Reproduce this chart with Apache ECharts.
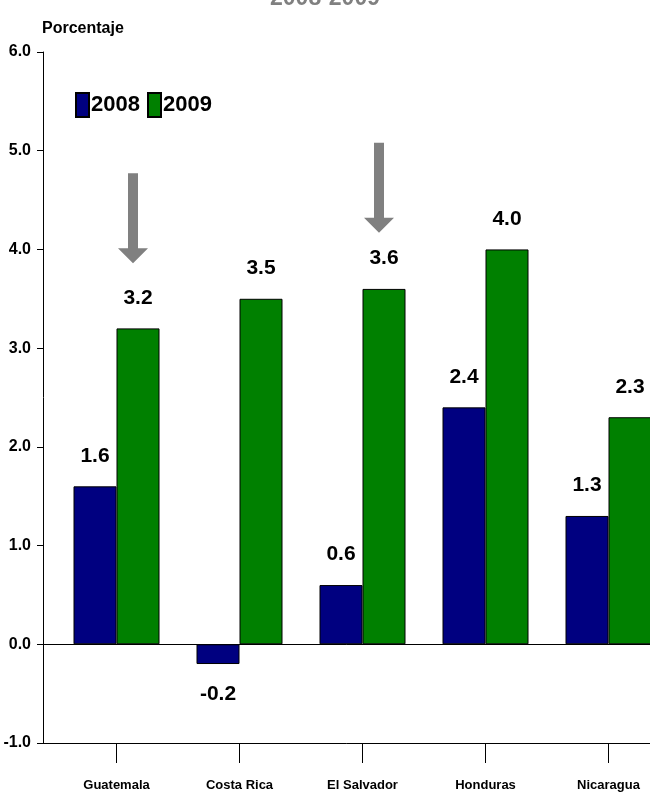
<!DOCTYPE html>
<html>
<head>
<meta charset="utf-8">
<script src="https://cdn.jsdelivr.net/npm/echarts@6/dist/echarts.min.js"></script>
<style>html,body{margin:0;padding:0;background:#fff}#c{width:650px;height:800px}</style>
</head>
<body>
<div id="c"></div>
<script>
var titleText = '2008-2009';
var yAxisName = 'Porcentaje';
var categories = ['Guatemala', 'Costa Rica', 'El Salvador', 'Honduras', 'Nicaragua'];
var values2008 = [1.6, -0.2, 0.6, 2.4, 1.3];
var values2009 = [3.2, 3.5, 3.6, 4.0, 2.3];
var seriesNames = ['2008', '2009'];
var yMin = -1, yMax = 6, yStep = 1;
// annotation arrows: [category, value at arrow tip]
var arrowTips = [['Guatemala', 3.86], ['El Salvador', 4.17]];

var FONT = "'Liberation Sans Narrow','Liberation Sans',Arial,sans-serif";
var BW = 'bold';
var chart = echarts.init(document.getElementById('c'));
var arrowPath = 'path://M5,0 L10,0 L10,75 L15,75 L7.5,90 L0,75 L5,75 Z';

chart.setOption({
  animation: false,
  backgroundColor: '#ffffff',
  title: {
    text: titleText, left: 'center', top: -18,
    textStyle: { color: '#808080', fontSize: 23, fontWeight: BW, fontFamily: FONT }
  },
  legend: [
    { left: 70, top: 87, itemWidth: 13, itemHeight: 24, icon: 'rect', data: [seriesNames[0]],
      itemStyle: { borderColor: '#000', borderWidth: 2 },
      textStyle: { fontSize: 22, fontWeight: BW, fontFamily: FONT, color: '#000', padding: [0, 0, 0, -3] } },
    { left: 142, top: 87, itemWidth: 13, itemHeight: 24, icon: 'rect', data: [seriesNames[1]],
      itemStyle: { borderColor: '#000', borderWidth: 2 },
      textStyle: { fontSize: 22, fontWeight: BW, fontFamily: FONT, color: '#000', padding: [0, 0, 0, -3] } }
  ],
  grid: [
    { left: 43, width: 627, top: 52, bottom: 57, outerBoundsMode: 'none' },
    { left: 55, width: 615, top: 52, bottom: 57, outerBoundsMode: 'none' }
  ],
  xAxis: [
    { gridIndex: 0, type: 'value', min: 0, max: 1, position: 'bottom',
      axisLine: { show: true, onZero: false, lineStyle: { color: '#000', width: 1 } },
      axisTick: { show: false }, axisLabel: { show: false }, splitLine: { show: false } },
    { gridIndex: 0, type: 'value', min: 0, max: 1, position: 'top',
      axisLine: { show: true, onZero: true, lineStyle: { color: '#000', width: 1 } },
      axisTick: { show: false }, axisLabel: { show: false }, splitLine: { show: false } },
    { gridIndex: 1, type: 'category', data: categories, position: 'bottom',
      axisLine: { show: false, onZero: false },
      axisTick: { show: true, alignWithLabel: true, length: 20, lineStyle: { color: '#000' } },
      axisLabel: { interval: 0, margin: 36, color: '#000', fontSize: 13, fontWeight: BW, fontFamily: FONT },
      splitLine: { show: false } }
  ],
  yAxis: [
    { gridIndex: 0, type: 'value', min: yMin, max: yMax, interval: yStep,
      name: yAxisName, nameLocation: 'end', nameGap: 15,
      nameTextStyle: { align: 'left', color: '#000', fontSize: 16, fontWeight: BW, fontFamily: FONT, padding: [0, 0, 0, -1] },
      axisLine: { show: true, lineStyle: { color: '#000', width: 1 } },
      axisTick: { show: true, length: 6, lineStyle: { color: '#000' } },
      axisLabel: { margin: 12, color: '#000', fontSize: 16, fontWeight: BW, fontFamily: FONT,
        formatter: function (v) { return v.toFixed(1); } },
      splitLine: { show: false } },
    { gridIndex: 1, type: 'value', min: yMin, max: yMax, interval: yStep, show: false }
  ],
  series: [
    { name: seriesNames[0], type: 'bar', xAxisIndex: 2, yAxisIndex: 1,
      data: values2008.map(function (v) {
        return { value: v, label: { position: v < 0 ? 'bottom' : 'top', distance: 20 } };
      }),
      barWidth: 43, barGap: '0%',
      itemStyle: { color: '#000080', borderColor: '#000', borderWidth: 1 },
      label: { show: true, color: '#000', fontSize: 21, fontWeight: BW, fontFamily: FONT,
        formatter: function (p) { return p.value.toFixed(1); } } },
    { name: seriesNames[1], type: 'bar', xAxisIndex: 2, yAxisIndex: 1,
      data: values2009,
      barWidth: 43, barGap: '0%',
      itemStyle: { color: '#008000', borderColor: '#000', borderWidth: 1 },
      label: { show: true, position: 'top', distance: 20, color: '#000', fontSize: 21, fontWeight: BW, fontFamily: FONT,
        formatter: function (p) { return p.value.toFixed(1); } },
      markPoint: {
        silent: true,
        symbol: arrowPath, symbolSize: [30, 90], symbolOffset: [-5, '-50%'],
        itemStyle: { color: '#808080' }, label: { show: false },
        data: arrowTips.map(function (a) { return { coord: a }; })
      } }
  ]
});
</script>
</body>
</html>
